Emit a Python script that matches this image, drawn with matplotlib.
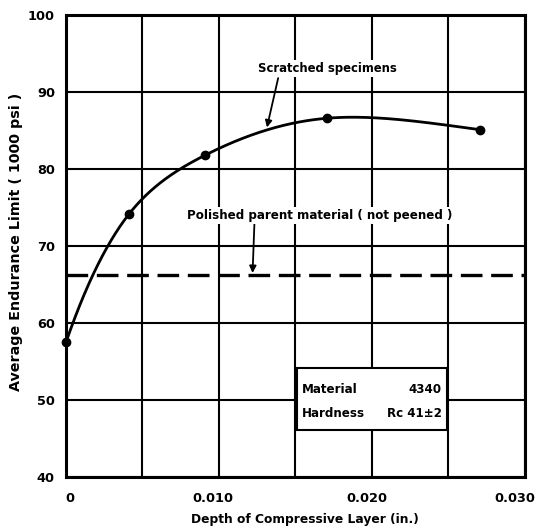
import numpy as np
import matplotlib
matplotlib.use("Agg")
import matplotlib.pyplot as plt
from matplotlib.transforms import ScaledTranslation

depth = [0.0, 0.0041, 0.0091, 0.0171, 0.0271]
endurance = [57.5, 74.1, 81.8, 86.6, 85.1]
polished_level = 66.2
x_ticks = [0, 0.010, 0.020, 0.030]
x_tick_labels = ["0", "0.010", "0.020", "0.030"]
y_ticks = [40, 50, 60, 70, 80, 90, 100]


def natural_spline(x, y, xs):
    x = np.asarray(x, float)
    y = np.asarray(y, float)
    n = len(x)
    h = np.diff(x)
    A = np.zeros((n, n))
    b = np.zeros(n)
    A[0, 0] = A[-1, -1] = 1.0
    for i in range(1, n - 1):
        A[i, i - 1] = h[i - 1]
        A[i, i] = 2 * (h[i - 1] + h[i])
        A[i, i + 1] = h[i]
        b[i] = 6 * ((y[i + 1] - y[i]) / h[i] - (y[i] - y[i - 1]) / h[i - 1])
    M = np.linalg.solve(A, b)
    out = np.empty_like(xs)
    for k, xv in enumerate(xs):
        i = min(max(np.searchsorted(x, xv) - 1, 0), n - 2)
        t0 = x[i + 1] - xv
        t1 = xv - x[i]
        out[k] = (M[i] * t0 ** 3 / (6 * h[i]) + M[i + 1] * t1 ** 3 / (6 * h[i])
                  + (y[i] / h[i] - M[i] * h[i] / 6) * t0
                  + (y[i + 1] / h[i] - M[i + 1] * h[i] / 6) * t1)
    return out


plt.rcParams['font.family'] = ['DejaVu Sans']
plt.rcParams['font.weight'] = 'bold'

fig = plt.figure(figsize=(5.41, 5.29), dpi=100)
ax = fig.add_axes([0.122, 0.0983, 0.848, 0.8733])

ax.set_xlim(0, 0.030)
ax.set_ylim(40, 100)
ax.set_xticks(x_ticks)
ax.set_xticklabels(x_tick_labels)
ax.set_xticks(np.arange(0, 0.0301, 0.005), minor=True)
ax.set_yticks(y_ticks)
ax.grid(True, which='both', color='black', linewidth=1.5)
ax.tick_params(which='both', length=0, labelsize=9.3)
ax.tick_params(axis='x', pad=11)
ax.tick_params(axis='y', pad=8)
for s in ax.spines.values():
    s.set_linewidth(2.2)
for lab in ax.get_xticklabels() + ax.get_yticklabels():
    lab.set_fontweight('bold')
for lab, dx in zip(ax.get_xticklabels(), [4, -6, -5, -10]):
    lab.set_transform(lab.get_transform() + ScaledTranslation(dx / 100, 0, fig.dpi_scale_trans))

# smooth curve through the measured points: spline in a warped depth axis
warp = 0.003
u = np.sqrt(np.asarray(depth) + warp)
us = np.linspace(u[0], u[-1], 500)
ax.plot(us ** 2 - warp, natural_spline(u, endurance, us), color='black', lw=2.0, zorder=3)
ax.plot(depth, endurance, 'o', color='black', ms=6, zorder=4, clip_on=False)

ax.axhline(polished_level, color='black', lw=2.4, dashes=(6.5, 2.6), zorder=3)

ax.annotate("Scratched specimens", xy=(0.01314, 85.4), xytext=(0.0171, 93.1),
            ha='center', va='center', fontsize=8.4, fontweight='bold', zorder=6,
            bbox=dict(facecolor='white', edgecolor='none', pad=1.5),
            arrowprops=dict(arrowstyle='-|>', color='black', lw=1.3, mutation_scale=10,
                            shrinkA=1, shrinkB=0, relpos=(0.15, 0.0)))
ax.annotate("Polished parent material ( not peened )", xy=(0.0122, 66.5), xytext=(0.0079, 74.0),
            ha='left', va='center', fontsize=8.6, fontweight='bold', zorder=6,
            bbox=dict(facecolor='white', edgecolor='none', pad=1.5),
            arrowprops=dict(arrowstyle='-|>', color='black', lw=1.3, mutation_scale=10,
                            shrinkA=0, shrinkB=0, relpos=(0.255, 0.0)))

# info box
box = plt.Rectangle((0.0151, 46.1), 0.0098, 8.1, facecolor='white', edgecolor='black',
                    lw=1.5, zorder=5)
ax.add_patch(box)
ax.text(0.01542, 51.3, "Material", fontsize=8.6, fontweight='bold', va='center', zorder=6)
ax.text(0.02457, 51.3, "4340", fontsize=8.6, fontweight='bold', va='center', ha='right', zorder=6)
ax.text(0.01542, 48.3, "Hardness", fontsize=8.6, fontweight='bold', va='center', zorder=6)
ax.text(0.02457, 48.3, "Rc 41±2", fontsize=8.6, fontweight='bold', va='center', ha='right', zorder=6)

ax.set_xlabel("Depth of Compressive Layer (in.)", fontsize=8.85, fontweight='bold')
ax.xaxis.set_label_coords(0.52, -0.078)
ax.set_ylabel("Average Endurance Limit ( 1000 psi )", fontsize=10.3, fontweight='bold')
ax.yaxis.set_label_coords(-0.094, 0.51)

fig.savefig("out.png", dpi=100, facecolor='white')
